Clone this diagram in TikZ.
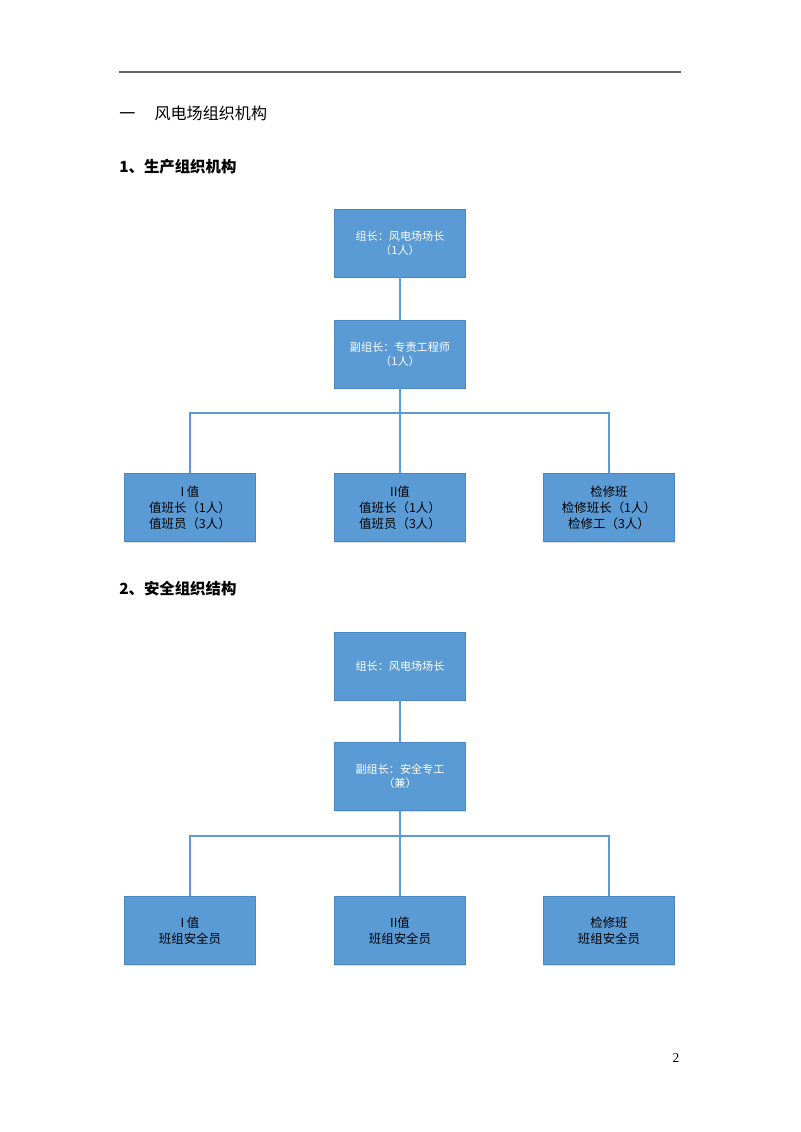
\documentclass[tikz,border=0pt]{standalone}
\usepackage{fontspec}
\newfontfamily\cjk{Noto Sans CJK SC}
\setmainfont{Liberation Serif}
\usetikzlibrary{shadows}
\definecolor{boxblue}{HTML}{5B9BD5}
\definecolor{boxedge}{HTML}{4A86C0}

\begin{document}
\begin{tikzpicture}[x=0.02625cm,y=-0.02625cm,
    orgbox/.style={fill=boxblue,draw=boxedge,line width=0.4pt,
        minimum width=131*0.02625cm,minimum height=68*0.02625cm,
        align=center,font=\cjk\fontsize{8.3}{10.6}\selectfont,
        drop shadow={shadow xshift=0.6pt,shadow yshift=-1pt,opacity=0.25}},
    headbox/.style={orgbox,text=white},
    teambox/.style={orgbox,text=black,font=\cjk\fontsize{9.3}{11.9}\selectfont},
    link/.style={draw=boxblue,line width=1.4pt},
    heading/.style={anchor=west,inner sep=0pt,font=\cjk\fontsize{12}{14}\selectfont}]
    \useasboundingbox (0,0) rectangle (800,1132);
    \draw [gray!80!black,line width=0.8pt] (119,72) -- (681,72);
    \node [heading] (title) at (119,113) {一\hspace{1.2em}风电场组织机构};
    \node [heading,font=\cjk\bfseries\fontsize{11.5}{14}\selectfont] (sec1) at (119,167) {1、生产组织机构};
    \node [heading,font=\cjk\bfseries\fontsize{11.5}{14}\selectfont] (sec2) at (119,589) {2、安全组织结构};

    % production
    \node [headbox] (zz1) at (400,243) {组长：风电场场长\\（1人）};
    \node [headbox] (fzz1) at (400,354) {副组长：专责工程师\\（1人）};
    \node [teambox] (yz1) at (190,507.5) {I 值\\值班长（1人）\\值班员（3人）};
    \node [teambox] (ez1) at (400,507.5) {II值\\值班长（1人）\\值班员（3人）};
    \node [teambox] (jx1) at (609,507.5) {检修班\\检修班长（1人）\\检修工（3人）};
    \coordinate (bus1) at (400,413);
    \draw [link] (zz1) -- (fzz1);
    \draw [link] (fzz1) -- (bus1);
    \draw [link] (yz1) |- (bus1) -| (jx1);
    \draw [link] (bus1) -- (ez1);

    % safety
    \node [headbox] (zz2) at (400,666) {组长：风电场场长};
    \node [headbox] (fzz2) at (400,776.5) {副组长：安全专工\\（兼）};
    \node [teambox] (yz2) at (190,930.5) {I 值\\班组安全员};
    \node [teambox] (ez2) at (400,930.5) {II值\\班组安全员};
    \node [teambox] (jx2) at (609,930.5) {检修班\\班组安全员};
    \coordinate (bus2) at (400,836);
    \draw [link] (zz2) -- (fzz2);
    \draw [link] (fzz2) -- (bus2);
    \draw [link] (yz2) |- (bus2) -| (jx2);
    \draw [link] (bus2) -- (ez2);

    \node [font=\fontsize{10}{12}\selectfont] (page) at (676,1058) {2};
\end{tikzpicture}
\end{document}
